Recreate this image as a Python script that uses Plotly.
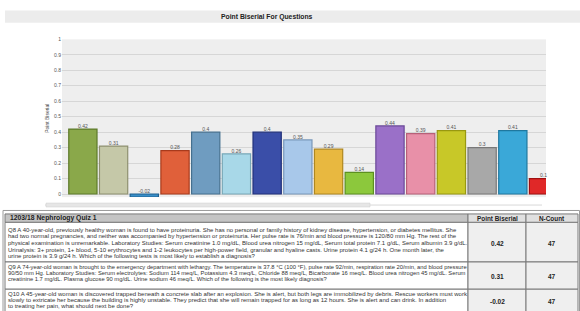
import plotly.graph_objects as go

questions = [f"Q{i}" for i in range(8, 24)]
point_biserial = [0.42, 0.31, -0.02, 0.28, 0.40, 0.26, 0.40, 0.35, 0.29, 0.14, 0.44, 0.39, 0.41, 0.30, 0.41, 0.10]
bar_labels = ["0.42", "0.31", "-0.02", "0.28", "0.4", "0.26", "0.4", "0.35", "0.29", "0.14", "0.44", "0.39", "0.41", "0.3", "0.41", "0.1"]
bar_colors = ["#8aa84a", "#c5c8a8", "#3a8fc8", "#e0603a", "#6f9cc0", "#a8d8e8", "#3a4ea8", "#a8c8ea",
              "#e8b840", "#8cc83c", "#9a70c8", "#e890a8", "#c8c828", "#a8a8a8", "#3aa8d8", "#e02828"]
edge_colors = ["#5d7a2a", "#8e9070", "#1f6090", "#a83a1c", "#45708f", "#78a8b8", "#20307a", "#7898ba",
               "#b08820", "#5c9020", "#6a4898", "#b86078", "#989810", "#787878", "#1f789f", "#a01010"]

title_text = "Point Biserial For Questions"
y_title = "Point Biserial"

table_header = ["1203/18 Nephrology Quiz 1", "Point Biserial", "N-Count"]
table_questions = [
    "Q8 A 40-year-old, previously healthy woman is found to have proteinuria. She has no personal or family history of kidney disease, hypertension, or diabetes mellitus. She had two normal pregnancies, and neither was accompanied by hypertension or proteinuria. Her pulse rate is 76/min and blood pressure is 120/80 mm Hg. The rest of the physical examination is unremarkable. Laboratory Studies: Serum creatinine 1.0 mg/dL, Blood urea nitrogen 15 mg/dL, Serum total protein 7.1 g/dL, Serum albumin 3.9 g/dL. Urinalysis: 3+ protein, 1+ blood, 5-10 erythrocytes and 1-2 leukocytes per high-power field, granular and hyaline casts. Urine protein 4.1 g/24 h. One month later, the urine protein is 3.9 g/24 h. Which of the following tests is most likely to establish a diagnosis?",
    "Q9 A 74-year-old woman is brought to the emergency department with lethargy. The temperature is 37.8 °C (100 °F), pulse rate 92/min, respiration rate 20/min, and blood pressure 90/50 mm Hg. Laboratory Studies: Serum electrolytes: Sodium 114 meq/L, Potassium 4.3 meq/L, Chloride 88 meq/L, Bicarbonate 16 meq/L. Blood urea nitrogen 45 mg/dL. Serum creatinine 1.7 mg/dL. Plasma glucose 90 mg/dL. Urine sodium 46 meq/L. Which of the following is the most likely diagnosis?",
    "Q10 A 45-year-old woman is discovered trapped beneath a concrete slab after an explosion. She is alert, but both legs are immobilized by debris. Rescue workers must work slowly to extricate her because the building is highly unstable. They predict that she will remain trapped for as long as 12 hours. She is alert and can drink. In addition to treating her pain, what should next be done?",
]
table_pb = ["0.42", "0.31", "-0.02"]
table_n = ["47", "47", "47"]

W, H = 580, 311
FONT = "Liberation Sans, Arial, sans-serif"

fig = go.Figure()
fig.add_trace(go.Bar(
    x=questions, y=point_biserial,
    marker=dict(color=bar_colors, line=dict(color=edge_colors, width=1.2)),
    width=0.92, hoverinfo="x+y", showlegend=False,
))
fig.add_trace(go.Scatter(
    x=questions, y=[max(v, 0) for v in point_biserial],
    mode="text", text=bar_labels, textposition="top center",
    textfont=dict(size=5, color="#555555", family=FONT),
    showlegend=False, hoverinfo="skip", cliponaxis=False,
))

# ---------- table layout (pixel layout constants) ----------
col_edges = [5, 468, 526, 578]
header_top, header_bottom = 213, 221.5
row_edges = [221.5, 261.5, 289, 314]
first_line = [229.0, 266.8, 293.7]
line_gap = [6.67, 6.0, 6.0]
wrap_chars = [172, 176, 172]
text_size = [6.0, 5.8, 6.0]
value_y = [242.7, 275.7, 301.5]


def py(p):
    return 1 - p / H


def px(p):
    return p / W


def wrap(text, n):
    words, lines, cur = text.split(" "), [], ""
    for w in words:
        if cur and len(cur) + 1 + len(w) > n:
            lines.append(cur)
            cur = w
        else:
            cur = (cur + " " + w) if cur else w
    if cur:
        lines.append(cur)
    return lines


shapes = [
    dict(type="rect", xref="paper", yref="paper", x0=px(5), x1=1, y0=py(20), y1=py(7.5),
         fillcolor="#ececec", line=dict(width=0), layer="below"),
    dict(type="line", xref="paper", yref="paper", x0=px(45), x1=px(542), y0=py(204), y1=py(204),
         line=dict(color="#d8d8d8", width=1)),
    dict(type="rect", xref="paper", yref="paper", x0=px(46), x1=px(370), y0=py(206), y1=py(202),
         fillcolor="#e6e6e6", line=dict(color="#cfcfcf", width=0.5)),
    dict(type="rect", xref="paper", yref="paper", x0=px(3), x1=px(579.5), y0=py(312), y1=py(209.5),
         fillcolor="rgba(0,0,0,0)", line=dict(color="#9a9a9a", width=1)),
]
annotations = [
    dict(text=f"<b>{title_text}</b>", xref="paper", yref="paper", x=px(266.5), y=py(14),
         showarrow=False, font=dict(size=6.8, color="#222222", family=FONT), xanchor="center", yanchor="middle"),
]

header_fill = ["#c4c4c4", "#e0e0e0", "#e0e0e0"]
body_fill = ["#ffffff", "#efefef", "#efefef"]
for c in range(3):
    shapes.append(dict(type="rect", xref="paper", yref="paper", x0=px(col_edges[c]), x1=px(col_edges[c + 1]),
                       y0=py(header_bottom), y1=py(header_top), fillcolor=header_fill[c],
                       line=dict(color="#7a7a7a", width=1)))
    for r in range(3):
        shapes.append(dict(type="rect", xref="paper", yref="paper", x0=px(col_edges[c]), x1=px(col_edges[c + 1]),
                           y0=py(row_edges[r + 1]), y1=py(row_edges[r]), fillcolor=body_fill[c],
                           line=dict(color="#7a7a7a", width=1)))

annotations.append(dict(text=f"<b>{table_header[0]}</b>", xref="paper", yref="paper", x=px(col_edges[0] + 3),
                        y=py((header_top + header_bottom) / 2), xanchor="left", yanchor="middle", showarrow=False,
                        font=dict(size=6.8, color="#222222", family=FONT)))
for c in (1, 2):
    annotations.append(dict(text=f"<b>{table_header[c]}</b>", xref="paper", yref="paper",
                            x=px((col_edges[c] + col_edges[c + 1]) / 2), y=py((header_top + header_bottom) / 2),
                            xanchor="center", yanchor="middle", showarrow=False,
                            font=dict(size=6.4, color="#222222", family=FONT)))

for r in range(3):
    lines = wrap(table_questions[r], wrap_chars[r])
    for i, ln in enumerate(lines):
        annotations.append(dict(text=ln, xref="paper", yref="paper", x=px(col_edges[0] + 2),
                                y=py(first_line[r] + i * line_gap[r]), xanchor="left", yanchor="middle",
                                showarrow=False, borderpad=0,
                                font=dict(size=text_size[r], color="#333333", family=FONT)))
    annotations.append(dict(text=f"<b>{table_pb[r]}</b>", xref="paper", yref="paper",
                            x=px((col_edges[1] + col_edges[2]) / 2), y=py(value_y[r]), xanchor="center",
                            yanchor="middle", showarrow=False, font=dict(size=6.5, color="#222222", family=FONT)))
    annotations.append(dict(text=f"<b>{table_n[r]}</b>", xref="paper", yref="paper",
                            x=px((col_edges[2] + col_edges[3]) / 2), y=py(value_y[r]), xanchor="center",
                            yanchor="middle", showarrow=False, font=dict(size=6.5, color="#222222", family=FONT)))

fig.update_layout(
    width=W, height=H,
    margin=dict(l=0, r=0, t=0, b=0),
    paper_bgcolor="#ffffff",
    plot_bgcolor="#eeeeee",
    bargap=0.05,
    font=dict(family=FONT, size=5, color="#444444"),
    shapes=shapes,
    annotations=annotations,
    xaxis=dict(domain=[px(62), px(546)], range=[-0.68, 15.08], showticklabels=False,
               showgrid=False, zeroline=False, showline=False, ticks=""),
    yaxis=dict(domain=[py(196), py(36.7)], range=[-0.02, 1.0], dtick=0.1, tick0=0,
               showgrid=True, gridcolor="#d6d6d6", gridwidth=1, zeroline=False,
               tickfont=dict(size=5, color="#555555", family=FONT), ticklen=0,
               title=dict(text=y_title, font=dict(size=5, color="#444444", family=FONT), standoff=4)),
)

fig.write_html("out.html", config={"displayModeBar": False},
               post_script="document.body.style.margin='0';document.body.style.overflow='hidden';")
